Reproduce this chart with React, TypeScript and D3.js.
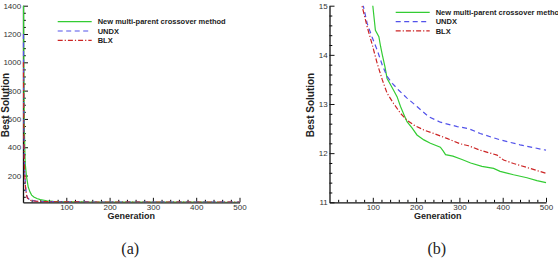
import { useEffect, useRef } from 'react';
import * as d3 from 'd3';

const W = 558;
const H = 271;

// series: generation -> best solution
const greenGen = [1, 2, 3, 5, 8, 12, 16, 20, 25, 32, 40, 55, 70, 85, 100, 106, 114, 118, 122, 128, 133, 141, 148, 156, 164, 172, 179, 191, 202, 218, 233, 256, 262, 268, 285, 306, 326, 352, 379, 394, 425, 456, 479, 500];
const greenVal = [1600, 900, 550, 290, 195, 120, 85, 62, 48, 38, 30, 22, 18, 16.2, 15, 14.5, 14.37, 14.17, 14.0, 13.76, 13.52, 13.39, 13.28, 13.15, 12.95, 12.78, 12.64, 12.51, 12.37, 12.27, 12.2, 12.12, 12.05, 11.97, 11.94, 11.87, 11.8, 11.73, 11.69, 11.63, 11.56, 11.5, 11.44, 11.4];

const undxGen = [1, 2, 3, 4, 6, 8, 10, 15, 20, 30, 40, 50, 60, 70, 78, 87, 98, 110, 122, 133, 145, 160, 179, 202, 229, 256, 295, 321, 348, 394, 440, 500];
const undxVal = [1200, 600, 350, 220, 120, 70, 45, 30, 24, 19, 17, 16.3, 15.7, 15.3, 15, 14.64, 14.37, 14.1, 13.79, 13.56, 13.42, 13.28, 13.12, 12.95, 12.74, 12.63, 12.54, 12.5, 12.4, 12.27, 12.17, 12.06];

const blxGen = [1, 2, 3, 4, 6, 8, 10, 15, 20, 30, 40, 50, 60, 75, 87, 98, 110, 122, 133, 148, 164, 179, 195, 218, 241, 271, 302, 321, 348, 387, 402, 425, 463, 500];
const blxVal = [1000, 500, 300, 200, 110, 65, 42, 28, 22, 18.5, 17, 16.2, 15.6, 15, 14.57, 14.23, 13.83, 13.49, 13.22, 13.01, 12.81, 12.67, 12.57, 12.47, 12.4, 12.3, 12.19, 12.15, 12.06, 11.96, 11.86, 11.79, 11.69, 11.59];

const seriesNames = ['New multi-parent crossover method', 'UNDX', 'BLX'];
const xTicks = [100, 200, 300, 400, 500];
const yTicksA = [200, 400, 600, 800, 1000, 1200, 1400];
const yTicksB = [11, 12, 13, 14, 15];

const series = [
    { name: seriesNames[0], gen: greenGen, val: greenVal, color: '#33cc33', dash: null },
    { name: seriesNames[1], gen: undxGen, val: undxVal, color: '#5252ea', dash: '5,3.5' },
    { name: seriesNames[2], gen: blxGen, val: blxVal, color: '#cc2424', dash: '5,2,1.2,2' }
];

const FONT = '"Liberation Sans", Arial, Helvetica, sans-serif';

type Panel = {
    id: string;
    x0: number;
    x1: number;
    yDomain: [number, number];
    yMajor: number[];
    yMinorStep: number;
    yLabelX: number;
    legendX: number;
    legendY: number;
    caption: string;
};

const top = 5.7;
const bottom = 202.3;

const panels: Panel[] = [
    { id: 'a', x0: 23, x1: 239.5, yDomain: [11, 1400], yMajor: yTicksA, yMinorStep: 50, yLabelX: 5, legendX: 57.7, legendY: 21.7, caption: '(a)' },
    { id: 'b', x0: 329.5, x1: 546, yDomain: [11, 15], yMajor: yTicksB, yMinorStep: 0.2, yLabelX: 310, legendX: 395.7, legendY: 12.3, caption: '(b)' }
];

export default function App() {
    const ref = useRef<SVGSVGElement>(null);

    useEffect(() => {
        const svg = d3.select(ref.current);
        svg.selectAll('*').remove();

        panels.forEach((p) => {
            const x = d3.scaleLinear().domain([0, 500]).range([p.x0, p.x1]);
            const y = d3.scaleLinear().domain(p.yDomain).range([bottom, top]);
            const g = svg.append('g');

            // minor ticks
            const xMinor = d3.range(20, 501, 20).filter((v) => v % 100 !== 0);
            const yMinor = d3
                .range(p.yDomain[0], p.yDomain[1] + 1e-6, p.yMinorStep)
                .map((v) => Math.round(v / p.yMinorStep) * p.yMinorStep)
                .filter((v) => v >= p.yDomain[0] && v <= p.yDomain[1] && !p.yMajor.some((m) => Math.abs(m - v) < 1e-6));

            g.append('g')
                .attr('transform', `translate(0, ${bottom})`)
                .call(d3.axisBottom(x).tickValues(xMinor).tickSize(-2.5).tickSizeOuter(0).tickFormat(() => ''))
                .call((s) => s.select('.domain').remove());
            g.append('g')
                .attr('transform', `translate(${p.x0}, 0)`)
                .call(d3.axisLeft(y).tickValues(yMinor).tickSize(-2.8).tickSizeOuter(0).tickFormat(() => ''))
                .call((s) => s.select('.domain').remove());

            // major axes
            const xa = g
                .append('g')
                .attr('transform', `translate(0, ${bottom})`)
                .call(d3.axisBottom(x).tickValues(xTicks).tickSize(-4.5).tickSizeOuter(0).tickPadding(2.5).tickFormat(d3.format('d')));
            const ya = g
                .append('g')
                .attr('transform', `translate(${p.x0}, 0)`)
                .call(d3.axisLeft(y).tickValues(p.yMajor).tickSize(-5).tickSizeOuter(0).tickPadding(1.8).tickFormat(d3.format('d')));

            [xa, ya].forEach((a) => {
                a.attr('font-family', FONT).attr('font-size', 8);
                a.selectAll('.tick text').attr('fill', '#333');
                a.selectAll('line').attr('stroke', '#111').attr('stroke-width', 1);
                a.select('.domain').attr('stroke', '#111').attr('stroke-width', 1.3);
            });

            // axis titles
            g.append('text')
                .attr('x', (p.x0 + p.x1) / 2)
                .attr('y', 219)
                .attr('text-anchor', 'middle')
                .attr('font-family', FONT)
                .attr('font-weight', 'bold')
                .attr('font-size', 9)
                .attr('fill', '#222')
                .text('Generation');
            g.append('text')
                .attr('transform', `translate(${p.yLabelX + 3.5}, 105) rotate(-90)`)
                .attr('text-anchor', 'middle')
                .attr('font-family', FONT)
                .attr('font-weight', 'bold')
                .attr('font-size', 10)
                .attr('fill', '#222')
                .text('Best Solution');

            // lines
            g.append('clipPath')
                .attr('id', `clip-${p.id}`)
                .append('rect')
                .attr('x', p.x0 - 1)
                .attr('y', top)
                .attr('width', p.x1 - p.x0 + 2)
                .attr('height', bottom - top);

            const plot = g.append('g').attr('clip-path', `url(#clip-${p.id})`);
            series.forEach((s) => {
                const pts = s.gen.map((gv, i) => [gv, s.val[i]] as [number, number]);
                const line = d3
                    .line<[number, number]>()
                    .x((d) => x(d[0]))
                    .y((d) => y(Math.min(d[1], p.yDomain[1] * 1.3)));
                plot.append('path')
                    .attr('d', line(pts))
                    .attr('fill', 'none')
                    .attr('stroke', s.color)
                    .attr('stroke-width', 1.2)
                    .attr('stroke-dasharray', s.dash);
            });

            // legend
            series.forEach((s, i) => {
                const ly = p.legendY + i * 9.3;
                g.append('line')
                    .attr('x1', p.legendX)
                    .attr('x2', p.legendX + 34)
                    .attr('y1', ly)
                    .attr('y2', ly)
                    .attr('stroke', s.color)
                    .attr('stroke-width', 1.2)
                    .attr('stroke-dasharray', s.dash);
                g.append('text')
                    .attr('x', p.legendX + 40)
                    .attr('y', ly + 2.7)
                    .attr('font-family', FONT)
                    .attr('font-weight', 'bold')
                    .attr('font-size', 7.5)
                    .attr('fill', '#222')
                    .text(s.name);
            });

            // caption
            g.append('text')
                .attr('x', (p.x0 + p.x1) / 2 - 1)
                .attr('y', 254)
                .attr('text-anchor', 'middle')
                .attr('font-family', '"Liberation Serif", "DejaVu Serif", serif')
                .attr('font-size', 16)
                .attr('fill', '#222')
                .text(p.caption);
        });
    }, []);

    return (
        <div style={{ position: 'absolute', left: 0, top: 0, width: W, height: H, background: '#fff' }}>
            <svg ref={ref} width={W} height={H} style={{ display: 'block' }} />
        </div>
    );
}
